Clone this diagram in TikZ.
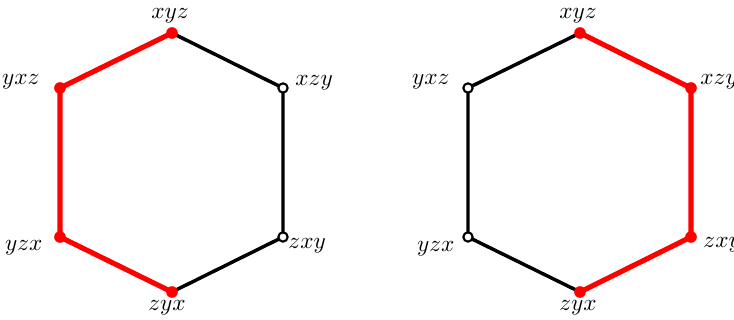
\documentclass[tikz,border=0pt]{standalone}
\usetikzlibrary{positioning}
\tikzset{
  redge/.style={red, line width=2.2pt, line cap=round},
  bedge/.style={black, line width=1.5pt, line cap=round},
  rdot/.style={circle, fill=red, inner sep=0pt, minimum size=5pt},
  odot/.style={circle, draw=black, fill=white, line width=0.9pt, inner sep=0pt, minimum size=4pt},
  lbl/.style={inner sep=0pt, font=\fontsize{9.7}{12}\selectfont}
}
\begin{document}
\begin{tikzpicture}[x=0.43pt, y=-0.43pt]
  \useasboundingbox (0,0) rectangle (734,320);
  % ---- left hexagon ----
  \coordinate (Axyz) at (172,33);
  \coordinate (Axzy) at (283,88);
  \coordinate (Azxy) at (283,237);
  \coordinate (Azyx) at (172,292);
  \coordinate (Ayzx) at (60,237);
  \coordinate (Ayxz) at (60,88);
  \draw[bedge] (Axyz) -- (Axzy) -- (Azxy) -- (Azyx);
  \draw[redge] (Azyx) -- (Ayzx) -- (Ayxz) -- (Axyz);
  \node[rdot] (dAxyz) at (Axyz) {};
  \node[odot] (dAxzy) at (Axzy) {};
  \node[odot] (dAzxy) at (Azxy) {};
  \node[rdot] (dAzyx) at (Azyx) {};
  \node[rdot] (dAyzx) at (Ayzx) {};
  \node[rdot] (dAyxz) at (Ayxz) {};
  \node[lbl, anchor=base] (tAxyz) at (170,19) {$xyz$};
  \node[lbl, anchor=base west] (tAxzy) at (295,86) {$xzy$};
  \node[lbl, anchor=base west] (tAzxy) at (288,249) {$zxy$};
  \node[lbl, anchor=base] (tAzyx) at (167,311) {$zyx$};
  \node[lbl, anchor=base east] (tAyzx) at (43,251) {$yzx$};
  \node[lbl, anchor=base east] (tAyxz) at (40,85) {$yxz$};
  % ---- right hexagon ----
  \coordinate (Bxyz) at (580,33);
  \coordinate (Bxzy) at (691,88);
  \coordinate (Bzxy) at (691,237);
  \coordinate (Bzyx) at (580,292);
  \coordinate (Byzx) at (468,237);
  \coordinate (Byxz) at (468,88);
  \draw[bedge] (Bzyx) -- (Byzx) -- (Byxz) -- (Bxyz);
  \draw[redge] (Bxyz) -- (Bxzy) -- (Bzxy) -- (Bzyx);
  \node[rdot] (dBxyz) at (Bxyz) {};
  \node[rdot] (dBxzy) at (Bxzy) {};
  \node[rdot] (dBzxy) at (Bzxy) {};
  \node[rdot] (dBzyx) at (Bzyx) {};
  \node[odot] (dByzx) at (Byzx) {};
  \node[odot] (dByxz) at (Byxz) {};
  \node[lbl, anchor=base] (tBxyz) at (578,19) {$xyz$};
  \node[lbl, anchor=base west] (tBxzy) at (700,85) {$xzy$};
  \node[lbl, anchor=base west] (tBzxy) at (703,248) {$zxy$};
  \node[lbl, anchor=base] (tBzyx) at (578,311) {$zyx$};
  \node[lbl, anchor=base east] (tByzx) at (455,252) {$yzx$};
  \node[lbl, anchor=base east] (tByxz) at (450,85) {$yxz$};
\end{tikzpicture}
\end{document}
